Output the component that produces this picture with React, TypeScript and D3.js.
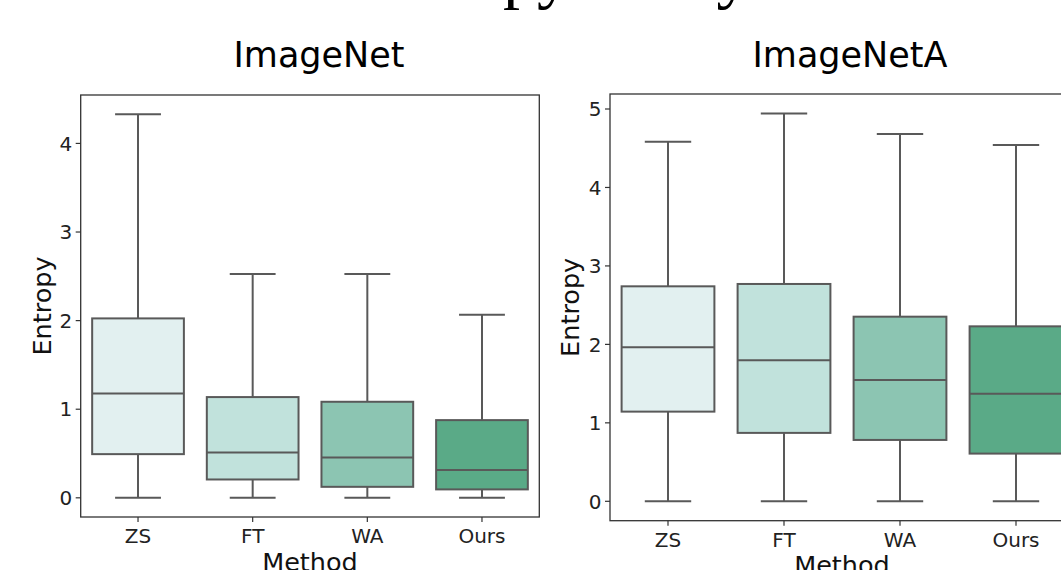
import React from "react";
import * as d3 from "d3";

const methods = ["ZS", "FT", "WA", "Ours"];
const boxColors = ["#e2f0f0", "#c1e2dc", "#8cc5b2", "#5aaa87"];

const imagenetLow = [0, 0, 0, 0];
const imagenetQ1 = [0.493, 0.207, 0.124, 0.095];
const imagenetMedian = [1.178, 0.512, 0.456, 0.313];
const imagenetQ3 = [2.025, 1.137, 1.084, 0.877];
const imagenetHigh = [4.33, 2.525, 2.525, 2.066];
const imagenetTicks = [0, 1, 2, 3, 4];

const imagenetALow = [0, 0, 0, 0];
const imagenetAQ1 = [1.143, 0.872, 0.782, 0.608];
const imagenetAMedian = [1.962, 1.797, 1.547, 1.372];
const imagenetAQ3 = [2.74, 2.77, 2.353, 2.23];
const imagenetAHigh = [4.583, 4.944, 4.681, 4.541];
const imagenetATicks = [0, 1, 2, 3, 4, 5];

const suptitle = "Entropy Analysis";
const yLabel = "Entropy";
const xLabel = "Method";

type PanelProps = {
  title: string;
  low: number[];
  q1: number[];
  med: number[];
  q3: number[];
  high: number[];
  ticks: number[];
  x: number;
  y: number;
  w: number;
  h: number;
  titleX: number;
  yLabelX: number;
};

const FONT = "DejaVu Sans";
const LINE = "#595959";
const SPINE = "#333";

function Panel(p: PanelProps) {
  const lo = d3.min(p.low)!;
  const hi = d3.max(p.high)!;
  const pad = (hi - lo) * 0.05;
  const yScale = d3.scaleLinear().domain([lo - pad, hi + pad]).range([p.y + p.h, p.y]);
  const xScale = d3.scaleBand().domain(methods).range([p.x, p.x + p.w]).paddingInner(0.2).paddingOuter(0.1);
  const bw = xScale.bandwidth();
  return (
    <g>
      <text x={p.titleX} y={67} fontFamily={FONT} fontSize={35} textAnchor="middle" fill="#000">
        {p.title}
      </text>
      {methods.map((m, i) => {
        const x0 = xScale(m)!;
        const cx = x0 + bw / 2;
        const yq1 = yScale(p.q1[i]);
        const yq3 = yScale(p.q3[i]);
        const ym = yScale(p.med[i]);
        const yl = yScale(p.low[i]);
        const yh = yScale(p.high[i]);
        return (
          <g key={m}>
            <line x1={cx} x2={cx} y1={yq3} y2={yh} stroke={LINE} strokeWidth={2} />
            <line x1={cx} x2={cx} y1={yq1} y2={yl} stroke={LINE} strokeWidth={2} />
            <line x1={cx - bw / 4} x2={cx + bw / 4} y1={yh} y2={yh} stroke={LINE} strokeWidth={2} />
            <line x1={cx - bw / 4} x2={cx + bw / 4} y1={yl} y2={yl} stroke={LINE} strokeWidth={2} />
            <rect x={x0} y={yq3} width={bw} height={yq1 - yq3} fill={boxColors[i]} stroke={LINE} strokeWidth={2} />
            <line x1={x0} x2={x0 + bw} y1={ym} y2={ym} stroke={LINE} strokeWidth={2} />
          </g>
        );
      })}
      <rect x={p.x} y={p.y} width={p.w} height={p.h} fill="none" stroke={SPINE} strokeWidth={1.3} />
      {p.ticks.map((t) => (
        <g key={t}>
          <line x1={p.x - 5} x2={p.x} y1={yScale(t)} y2={yScale(t)} stroke={SPINE} strokeWidth={1.2} />
          <text x={p.x - 8.5} y={yScale(t)} dy="0.36em" fontFamily={FONT} fontSize={20} textAnchor="end" fill="#222">
            {t}
          </text>
        </g>
      ))}
      {methods.map((m) => {
        const cx = xScale(m)! + bw / 2;
        return (
          <g key={m}>
            <line x1={cx} x2={cx} y1={p.y + p.h} y2={p.y + p.h + 5} stroke={SPINE} strokeWidth={1.2} />
            <text x={cx} y={p.y + p.h + 26} fontFamily={FONT} fontSize={20} textAnchor="middle" fill="#222">
              {m}
            </text>
          </g>
        );
      })}
      <text
        x={p.x + p.w / 2}
        y={p.y + p.h + 53.5}
        fontFamily={FONT}
        fontSize={25.5}
        textAnchor="middle"
        fill="#111"
      >
        {xLabel}
      </text>
      <text
        transform={`translate(${p.yLabelX},${p.y + p.h / 2}) rotate(-90)`}
        fontFamily={FONT}
        fontSize={25.5}
        textAnchor="middle"
        fill="#111"
      >
        {yLabel}
      </text>
    </g>
  );
}

export default function App() {
  return (
    <svg
      width={1061}
      height={570}
      style={{ position: "absolute", left: 0, top: 0, background: "#fff" }}
    >
      <rect x={0} y={0} width={1061} height={570} fill="#fff" />
      <text x={352} y={-4} fontFamily="Liberation Serif" fontSize={68} fill="#000">
        {suptitle}
      </text>
      <Panel
        title="ImageNet"
        low={imagenetLow}
        q1={imagenetQ1}
        med={imagenetMedian}
        q3={imagenetQ3}
        high={imagenetHigh}
        ticks={imagenetTicks}
        x={80.7}
        y={95}
        w={458.6}
        h={422}
        titleX={319}
        yLabelX={50.5}
      />
      <Panel
        title="ImageNetA"
        low={imagenetALow}
        q1={imagenetAQ1}
        med={imagenetAMedian}
        q3={imagenetAQ3}
        high={imagenetAHigh}
        ticks={imagenetATicks}
        x={610}
        y={94}
        w={464}
        h={426.7}
        titleX={850}
        yLabelX={578.5}
      />
    </svg>
  );
}
